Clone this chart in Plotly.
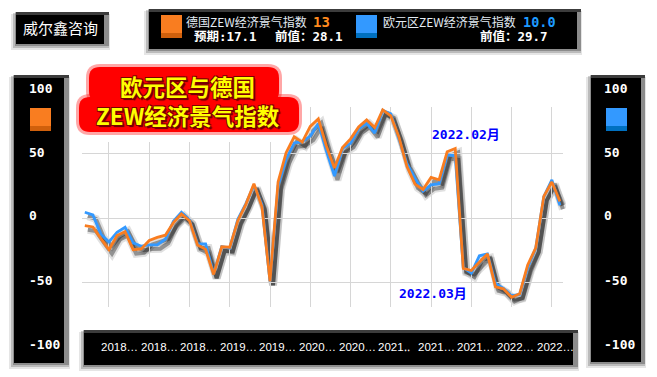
import plotly.graph_objects as go

# ---------------- data ----------------
months = [
    "2018-04", "2018-05", "2018-06", "2018-07", "2018-08", "2018-09", "2018-10", "2018-11", "2018-12",
    "2019-01", "2019-02", "2019-03", "2019-04", "2019-05", "2019-06", "2019-07", "2019-08", "2019-09",
    "2019-10", "2019-11", "2019-12",
    "2020-01", "2020-02", "2020-03", "2020-04", "2020-05", "2020-06", "2020-07", "2020-08", "2020-09",
    "2020-10", "2020-11", "2020-12",
    "2021-01", "2021-02", "2021-03", "2021-04", "2021-05", "2021-06", "2021-07", "2021-08", "2021-09",
    "2021-10", "2021-11", "2021-12",
    "2022-01", "2022-02", "2022-03", "2022-04", "2022-05", "2022-06", "2022-07", "2022-08", "2022-09",
    "2022-10", "2022-11", "2022-12",
    "2023-01", "2023-02", "2023-03",
]
germany = [
    -6.0, -7.0, -16.1, -24.7, -13.7, -10.6, -24.7, -24.1, -17.5,
    -15.1, -13.4, -3.6, 3.1, -2.1, -21.1, -24.5, -44.1, -22.5, -22.8, -2.1, 10.7,
    26.7, 8.7, -49.5, 28.2, 51.0, 63.4, 59.3, 71.5, 77.4, 56.1, 39.0, 55.0,
    61.8, 71.2, 76.6, 70.7, 84.4, 79.8, 63.3, 40.4, 26.5, 22.3, 31.7, 29.9,
    51.7, 54.3, -39.3, -41.0, -34.3, -28.0, -53.8, -55.3, -61.9, -59.2, -36.7, -23.3,
    16.9, 28.1, 13.0,
]
eurozone = [
    4.5, 2.4, -12.6, -18.7, -11.1, -7.2, -19.4, -22.0, -21.0,
    -20.9, -16.6, -2.5, 4.5, -1.6, -20.2, -20.3, -43.6, -22.4, -23.5, -1.0, 11.2,
    25.6, 10.4, -49.5, 25.2, 46.0, 58.6, 59.6, 64.0, 73.9, 52.3, 32.8, 54.4,
    58.3, 69.6, 74.0, 66.3, 84.0, 81.3, 61.2, 42.7, 31.1, 21.0, 25.9, 26.8,
    49.4, 48.6, -38.7, -43.0, -29.5, -28.0, -51.1, -54.9, -60.7, -59.7, -38.7, -23.6,
    16.7, 29.7, 10.0,
]
grid_months = months[3::5]
x_tick_labels = ["2018…", "2018…", "2018…", "2019…", "2019…", "2020…", "2020…",
                 "2021‥", "2021…", "2021…", "2022…", "2022…"]
side_ticks = [100, 50, 0, -50, -100]

title_lines = ["欧元区与德国", "ZEW经济景气指数"]
brand = "威尔鑫咨询"
de_name, de_value, de_expect, de_prev = "德国ZEW经济景气指数", "13", "预期:17.1", "前值：28.1"
ez_name, ez_value, ez_prev = "欧元区ZEW经济景气指数", "10.0", "前值：29.7"
note_feb, note_mar = "2022.02月", "2022.03月"

# ---------------- geometry helpers (window pixels -> paper) ----------------
OFF = 8                      # default body margin of the html page
W, H = 657 - OFF, 377 - OFF
def X(px): return (px - OFF) / W
def Y(py): return 1 - (py - OFF) / H

ORANGE = "#F97D20"
ORANGE_D = "#D0600C"
BLUE = "#3399FF"
BLUE_D = "#0070C0"
YR = [-69.5, 86.7]
XR = [-0.35, 59.385]

def val_to_py(v):          # same linear scale as the y axis (0 -> 218 px, 1.28 px/unit)
    return 218 - 1.28 * v

fig = go.Figure()

# shadow subplot (xy), offset a few px right/down
for ys in (germany, eurozone):
    fig.add_trace(go.Scatter(x=months, y=ys, mode="lines", xaxis="x", yaxis="y",
                             line=dict(color="rgba(0,0,0,0.12)", width=8),
                             hoverinfo="skip", showlegend=False))
    fig.add_trace(go.Scatter(x=months, y=ys, mode="lines", xaxis="x", yaxis="y",
                             line=dict(color="rgba(0,0,0,0.35)", width=4),
                             hoverinfo="skip", showlegend=False))

# main lines (x2y2)
fig.add_trace(go.Scatter(x=months, y=eurozone, mode="lines", xaxis="x2", yaxis="y2",
                         name=ez_name, line=dict(color=BLUE, width=2.8), showlegend=False))
fig.add_trace(go.Scatter(x=months, y=germany, mode="lines", xaxis="x2", yaxis="y2",
                         name=de_name, line=dict(color=ORANGE, width=2.8), showlegend=False))

shapes = []
annotations = []

def rect(x0, y0, x1, y1, fill, layer="below"):
    shapes.append(dict(type="rect", xref="paper", yref="paper", x0=X(x0), x1=X(x1),
                       y0=Y(y1), y1=Y(y0), fillcolor=fill, line=dict(width=0), layer=layer))

def box(x0, y0, x1, y1, bevel=4):
    rect(x0 - 5, y0 + 2, x1 + bevel + 1, y1 + 6, "rgba(0,0,0,0.10)")
    rect(x0 - 3, y0 + 1, x1 + bevel, y1 + 4, "rgba(0,0,0,0.18)")
    rect(x0 - 1, y0, x1 + bevel, y1 + 2, "rgba(0,0,0,0.25)")
    rect(x0, y0, x1 + bevel, y1, "#8C8C8C")
    rect(x0, y0, x1, y1, "#000000")
    rect(x0, y0, x1 + bevel, y0 + 3, "#3C3C3C")

def rrect(x0, y0, x1, y1, r, fill):
    p = lambda a, b: f"{X(a):.5f},{Y(b):.5f}"
    path = (f"M {p(x0+r,y0)} L {p(x1-r,y0)} Q {p(x1,y0)} {p(x1,y0+r)} "
            f"L {p(x1,y1-r)} Q {p(x1,y1)} {p(x1-r,y1)} L {p(x0+r,y1)} "
            f"Q {p(x0,y1)} {p(x0,y1-r)} L {p(x0,y0+r)} Q {p(x0,y0)} {p(x0+r,y0)} Z")
    shapes.append(dict(type="path", xref="paper", yref="paper", path=path,
                       fillcolor=fill, line=dict(width=0), layer="above"))

def text(t, px, py, size, color, family="Noto Sans CJK SC", weight="normal",
         xanchor="center", shadow=None):
    f = dict(size=size, color=color, family=family, weight=weight)
    if shadow:
        f["shadow"] = shadow
    annotations.append(dict(text=t, x=X(px), y=Y(py), xref="paper", yref="paper",
                            xanchor=xanchor, yanchor="middle", showarrow=False, font=f,
                            borderpad=0))

# --- black panels ---
box(16, 12, 104, 44, bevel=5)
box(149, 9, 577, 49)
box(14, 75, 64, 363, bevel=5)
box(591, 75, 641, 362)
box(84, 330, 573, 365, bevel=5)

# brand
text(brand, 61, 28, 15, "#FFFFFF")

# legend contents
rect(161, 15, 182, 38, ORANGE)
rect(161, 33, 182, 38, ORANGE_D)
rect(356, 15, 377, 38, BLUE)
rect(356, 33, 377, 38, BLUE_D)
text(de_name, 185, 22, 12, "#E4ECF4", xanchor="left")
text(de_value, 312, 22, 14, "#FF8A1E", family="DejaVu Sans Mono", weight="bold", xanchor="left")
text(de_expect, 193, 37, 12.5, "#FFFFFF", family="DejaVu Sans Mono, Noto Sans CJK SC",
     weight="bold", xanchor="left")
text(de_prev, 274, 37, 12.5, "#FFFFFF", family="DejaVu Sans Mono, Noto Sans CJK SC",
     weight="bold", xanchor="left")
text(ez_name, 382, 22, 12, "#E4ECF4", xanchor="left")
text(ez_value, 522, 22, 13.5, "#1E9BFF", family="DejaVu Sans Mono", weight="bold", xanchor="left")
text(ez_prev, 479, 37, 12.5, "#FFFFFF", family="DejaVu Sans Mono, Noto Sans CJK SC",
     weight="bold", xanchor="left")

# side panels
rect(30, 108, 51, 131, ORANGE)
rect(30, 126, 51, 131, ORANGE_D)
rect(606, 108, 627, 131, BLUE)
rect(606, 126, 627, 131, BLUE_D)
for v in side_ticks:
    py = val_to_py(v) - 2
    text(str(v), 28, py, 13, "#FFFFFF", family="DejaVu Sans Mono", weight="bold",
         xanchor="left")
    text(str(v), 603, py, 13, "#FFFFFF", family="DejaVu Sans Mono", weight="bold",
         xanchor="left")

# bottom category labels
for k, lab in enumerate(x_tick_labels):
    text(lab, 100 + 39.6 * k, 347, 11.5, "#FFFFFF", family="Liberation Sans", xanchor="left")

# hide grid under title area
rect(83, 104, 286, 142, "#FFFFFF", layer="above")

# title blob
rrect(86, 64, 282, 105, 14, "rgba(255,0,0,0.35)")
rrect(76, 94, 302, 135, 14, "rgba(255,0,0,0.35)")
rrect(89, 67, 279, 102, 11, "#FF0000")
rrect(79, 97, 299, 132, 11, "#FF0000")
outline = ("-1px -1px 0 #7A0000, 1px -1px 0 #7A0000, -1px 1px 0 #7A0000, "
           "1px 1px 0 #7A0000, 2px 2px 1px #600000")
text("<br>".join(title_lines), 188, 100, 22.5, "#FFFF00", weight="bold", shadow=outline)

# notes
text(note_feb, 431, 134, 13, "#0000FF", family="DejaVu Sans Mono, Noto Sans CJK SC",
     weight="bold", xanchor="left")
text(note_mar, 398, 293, 13, "#0000FF", family="DejaVu Sans Mono, Noto Sans CJK SC",
     weight="bold", xanchor="left")

axis_hidden = dict(visible=False, showgrid=False, zeroline=False, fixedrange=True)
fig.update_layout(
    width=W, height=H,
    margin=dict(l=0, r=0, t=0, b=0),
    paper_bgcolor="white", plot_bgcolor="rgba(0,0,0,0)",
    showlegend=False,
    xaxis=dict(axis_hidden, type="category", range=XR, domain=[X(85), X(566)], anchor="y"),
    yaxis=dict(axis_hidden, range=YR, domain=[Y(311), Y(111)], anchor="x"),
    xaxis2=dict(type="category", range=XR, domain=[X(82), X(563)], anchor="y2",
                showgrid=True, gridcolor="#D6D6D6", gridwidth=1, tickmode="array",
                tickvals=grid_months, showticklabels=False, ticks="", showline=False,
                zeroline=False),
    yaxis2=dict(range=YR, domain=[Y(307), Y(107)], anchor="x2", showgrid=True,
                gridcolor="#D6D6D6", gridwidth=1, tickmode="array", tickvals=[-50, 0, 50],
                showticklabels=False, ticks="", showline=False, zeroline=False),
    shapes=shapes,
    annotations=annotations,
)

fig.write_html("out.html")
